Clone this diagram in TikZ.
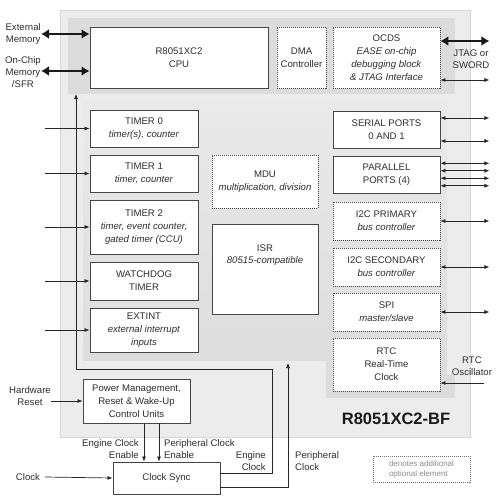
\documentclass[tikz,border=0pt]{standalone}
\usepackage{fontspec}
\setmainfont{Liberation Sans}
\usetikzlibrary{arrows.meta}

\definecolor{chipbg}{RGB}{236,236,236}
\definecolor{chipline}{RGB}{214,214,214}
\definecolor{bandbg}{RGB}{220,220,220}
\definecolor{midtop}{RGB}{234,234,234}
\definecolor{midbot}{RGB}{221,221,221}
\definecolor{boxline}{RGB}{70,70,70}
\definecolor{boxtext}{RGB}{45,45,45}

\begin{document}
\begin{tikzpicture}[x=1pt,y=-1pt,
    blk/.style={draw=boxline,line width=0.9pt,fill=white,text=boxtext,align=center,
      inner sep=1pt,font=\fontsize{9.6}{13}\selectfont},
    optblk/.style={blk,dash pattern=on 1pt off 1pt},
    lbl/.style={align=center,text=boxtext,inner sep=0pt,font=\fontsize{9.6}{12}\selectfont},
    sig/.style={line width=0.7pt,draw=black!85,-{Latex[length=5pt,width=4pt]}},
    bus/.style={line width=0.7pt,draw=black!85,{Latex[length=5pt,width=4pt]}-{Latex[length=5pt,width=4pt]}},
    fatbus/.style={line width=2.4pt,draw=black!90,{Latex[length=8pt,width=10pt]}-{Latex[length=8pt,width=10pt]}}]
    \useasboundingbox (0,0) rectangle (500,504);

    % chip background
    \draw[chipline,fill=chipbg,line width=1pt] (60,10) rectangle (470,437);
    \fill[bandbg] (68,18) rectangle (455,94);
    \shade[top color=midtop,bottom color=midbot] (83,100) rectangle (447,360);
    \fill[midbot] (326,360) rectangle (447,378);
    \fill[bandbg] (326,375) rectangle (455,398);

    % blocks
    \node[blk,minimum width=178,minimum height=61] (cpu) at (179,57.5) {R8051XC2\\CPU};
    \node[optblk,minimum width=49,minimum height=61] (dma) at (301.5,57.5) {DMA\\Controller};
    \node[optblk,minimum width=107,minimum height=61] (ocds) at (386.5,57.5)
      {OCDS\\\textit{EASE on-chip}\\\textit{debugging block}\\\textit{\& JTAG Interface}};

    \node[blk,minimum width=108,minimum height=37] (t0) at (144,128.5) {TIMER 0\\\textit{timer(s), counter}};
    \node[blk,minimum width=108,minimum height=37] (t1) at (144,173.5) {TIMER 1\\\textit{timer, counter}};
    \node[blk,minimum width=108,minimum height=54] (t2) at (144,227)
      {TIMER 2\\\textit{timer, event counter,}\\\textit{gated timer (CCU)}};
    \node[blk,minimum width=108,minimum height=38] (wdt) at (144,281) {WATCHDOG\\TIMER};
    \node[blk,minimum width=108,minimum height=44] (ext) at (144,330)
      {EXTINT\\\textit{external interrupt}\\\textit{inputs}};

    \node[optblk,minimum width=106,minimum height=53] (mdu) at (265,181.5)
      {MDU\\\textit{multiplication, division}};
    \node[blk,minimum width=106,minimum height=90] (isr) at (265,269) {};
    \node[lbl,anchor=north] (isrtxt) at ([yshift=-21]isr.north) {ISR\\\textit{80515-compatible}};

    \node[blk,minimum width=107,minimum height=37] (sp) at (386.5,129.5) {SERIAL PORTS\\0 AND 1};
    \node[blk,minimum width=107,minimum height=37] (pp) at (386.5,174.5) {PARALLEL\\PORTS (4)};
    \node[optblk,minimum width=107,minimum height=38] (i2cp) at (386.5,221) {I2C PRIMARY\\\textit{bus controller}};
    \node[optblk,minimum width=107,minimum height=38] (i2cs) at (386.5,267) {I2C SECONDARY\\\textit{bus controller}};
    \node[optblk,minimum width=107,minimum height=38] (spi) at (386.5,312) {SPI\\\textit{master/slave}};
    \node[optblk,minimum width=107,minimum height=53] (rtc) at (386.5,364.5) {RTC\\Real-Time\\Clock};

    \node[blk,minimum width=107,minimum height=44] (pm) at (136.5,401)
      {Power Management,\\Reset \& Wake-Up\\Control Units};
    \node[blk,minimum width=107,minimum height=32] (cs) at (166.5,478) {Clock Sync};

    \node[font=\bfseries\fontsize{16.5}{18}\selectfont,text=black!90,inner sep=0pt] (chipname) at (396,419) {R8051XC2-BF};

    % outside labels
    \node[lbl,anchor=east] (extmem) at (41,34) {External\\Memory};
    \node[lbl,anchor=east] (ocmem) at (41,72) {On-Chip\\Memory\\/SFR};
    \node[lbl] (jtag) at (471,59) {JTAG or\\SWORD};
    \node[lbl] (rtcosc) at (472,366) {RTC\\Oscillator};
    \node[lbl] (hwrst) at (30,396) {Hardware\\Reset};
    \node[lbl] (clk) at (28,477) {Clock};
    \node[lbl,align=right,anchor=south east] (ecen) at (139,459) {Engine Clock\\Enable};
    \node[lbl,align=left,anchor=south west] (pcen) at (164,459) {Peripheral Clock\\Enable};
    \node[lbl,align=right,anchor=south east] (eclk) at (266,471) {Engine\\Clock};
    \node[lbl,align=left,anchor=south west] (pclk) at (295,471) {Peripheral\\Clock};

    % legend
    \node[optblk,draw=black!55,text=black!45,align=left,minimum width=97,minimum height=26,
      font=\fontsize{8}{10}\selectfont] (legend) at (421.5,469) {denotes additional\\optional element};

    % buses
    \draw[fatbus] (extmem.east) -- (extmem.east -| cpu.west);
    \draw[fatbus] ([yshift=1]ocmem.east) -- ([yshift=1]ocmem.east -| cpu.west);
    \draw[fatbus] ([yshift=16.5]ocds.east) -- ++(49,0);
    \draw[bus] ([yshift=-22.5]ocds.east) -- ++(49,0);
    \foreach \dy in {11.5,-11.5}{
      \draw[bus] ([yshift=\dy]sp.east) -- ++(49,0);
    }
    \foreach \dy in {11.25,3.75,-3.75,-11.25}{
      \draw[bus] ([yshift=\dy]pp.east) -- ++(49,0);
    }
    \foreach \n in {i2cp,i2cs,spi}{
      \draw[bus] (\n.east) -- ++(49,0);
    }
    \draw[sig] ([yshift=-18.5]rtc.east) +(44,0) -- ([yshift=-18.5]rtc.east);

    % inputs
    \foreach \n in {t0,t1,t2,wdt,ext}{
      \draw[sig] (\n.west) +(-45,0) -- (\n.west);
    }
    \draw[sig] (hwrst.east |- pm.west) -- (pm.west);
    \draw[sig] (clk.east) ++(5,0) -- (cs.west);
    \draw[sig] ([xshift=7.5]pm.south) -- ([xshift=-22.5]cs.north);
    \draw[sig] ([xshift=22.5]pm.south) -- ([xshift=-7.5]cs.north);

    % clocks
    \coordinate (cpuclk) at (76,94);
    \coordinate (perclk) at (288,363);
    \draw[sig] ([yshift=5]cs.east) -| (272,369) -| (cpuclk);
    \draw[sig] ([yshift=-9]cs.east) -| (perclk);
\end{tikzpicture}
\end{document}
